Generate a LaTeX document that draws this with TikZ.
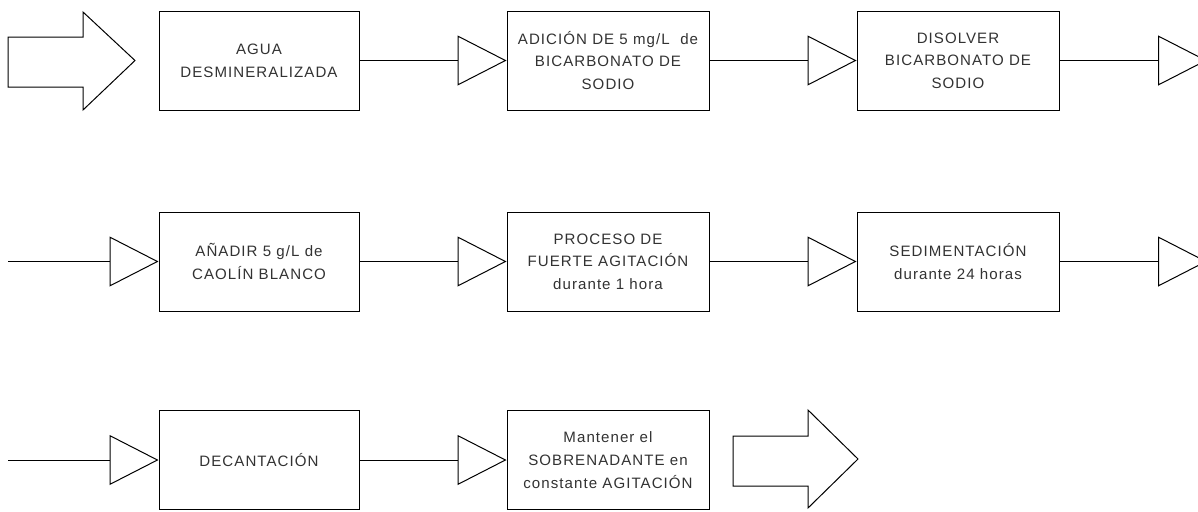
\documentclass[tikz,border=0pt]{standalone}
\usepackage{fontspec}
\setmainfont{Liberation Sans}[LetterSpace=7]
\usetikzlibrary{arrows.meta, positioning}
\definecolor{textgray}{RGB}{50,50,50}

\begin{document}
\begin{tikzpicture}[x=0.75pt, y=-0.75pt, line width=0.75pt,
		every node/.style={font=\fontsize{11.3}{17}\selectfont, text=textgray},
		paso/.style={draw=black, rectangle, minimum width=151.5pt, minimum height=74.25pt, align=center, inner sep=0pt},
		flecha/.style={-{Triangle[open, length=36.75pt, width=37.5pt]}}]
		\useasboundingbox (0,0) rectangle (1198,511);
		
		% fila 1
		\draw (8,37) -- (83,37) -- (83,12) -- (135,60.5) -- (83,110) -- (83,87) -- (8,87) -- cycle;
		\node[paso, minimum width=150pt] (agua) at (259,60.5) {AGUA\\DESMINERALIZADA};
		\node[paso] (adicion) at (608,60.5) {ADICIÓN DE 5 mg/L \ de\\BICARBONATO DE\\SODIO};
		\node[paso] (disolver) at (958,60.5) {DISOLVER\\BICARBONATO DE\\SODIO};
		\coordinate (sale1) at (1207,60.5);
		\draw[flecha] (agua) -- (adicion);
		\draw[flecha] (adicion) -- (disolver);
		\draw[flecha] (disolver) -- (sale1);
		
		% fila 2
		\coordinate (entra2) at (8,261.5);
		\node[paso, minimum width=150pt] (caolin) at (259,261.5) {AÑADIR 5 g/L de\\CAOLÍN BLANCO};
		\node[paso] (proceso) at (608,261.5) {PROCESO DE\\FUERTE AGITACIÓN\\durante 1 hora};
		\node[paso] (sedim) at (958,261.5) {SEDIMENTACIÓN\\durante 24 horas};
		\coordinate (sale2) at (1207,261.5);
		\draw[flecha] (entra2) -- (caolin);
		\draw[flecha] (caolin) -- (proceso);
		\draw[flecha] (proceso) -- (sedim);
		\draw[flecha] (sedim) -- (sale2);
		
		% fila 3
		\coordinate (entra3) at (8,460);
		\node[paso, minimum width=150pt] (decant) at (259,460) {DECANTACIÓN};
		\node[paso] (mantener) at (608,460) {Mantener el\\SOBRENADANTE en\\constante AGITACIÓN};
		\draw[flecha] (entra3) -- (decant);
		\draw[flecha] (decant) -- (mantener);
		\draw (733,436) -- (808,436) -- (808,410) -- (858,459) -- (808,508) -- (808,486) -- (733,486) -- cycle;
	\end{tikzpicture}
\end{document}
